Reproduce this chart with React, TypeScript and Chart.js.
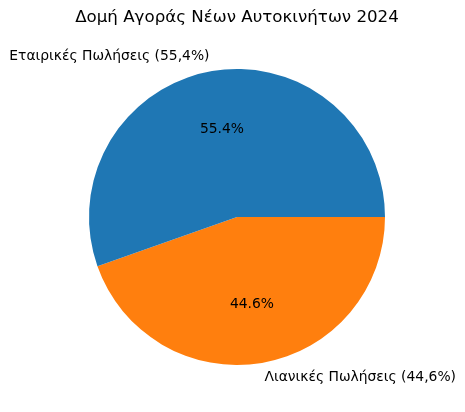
import React, { useEffect, useRef } from "react";
import { Chart, registerables } from "chart.js";

Chart.register(...registerables);

const TITLE = "Δομή Αγοράς Νέων Αυτοκινήτων 2024";
const categories = ["Εταιρικές Πωλήσεις (55,4%)", "Λιανικές Πωλήσεις (44,6%)"];
const values = [55.4, 44.6];
const colors = ["#1f77b4", "#ff7f0e"];

const FONT = "'DejaVu Sans', sans-serif";

export default function App() {
  const ref = useRef<HTMLCanvasElement | null>(null);

  useEffect(() => {
    document.body.style.margin = "0";
    if (!ref.current) return;
    // matplotlib draws counter-clockwise from 3 o'clock; Chart.js draws clockwise,
    // so feed the slices in reverse order starting at 3 o'clock.
    const order = values.map((_, i) => i).reverse();
    const total = values.reduce((a, b) => a + b, 0);

    const labelPlugin = {
      id: "mplLabels",
      afterDraw(chart: any) {
        const ctx = chart.ctx;
        const meta = chart.getDatasetMeta(0);
        ctx.save();
        // title
        ctx.fillStyle = "#000";
        ctx.font = `16.67px ${FONT}`;
        ctx.textAlign = "center";
        ctx.textBaseline = "middle";
        const area = chart.chartArea;
        ctx.fillText(TITLE, (area.left + area.right) / 2, 18);

        ctx.font = `13.89px ${FONT}`;
        meta.data.forEach((arc: any, j: number) => {
          const idx = order[j];
          const mid = (arc.startAngle + arc.endAngle) / 2;
          const r = arc.outerRadius;
          const c = Math.cos(mid);
          const s = Math.sin(mid);
          // outer label
          ctx.textAlign = c < 0 ? "right" : "left";
          ctx.textBaseline = "middle";
          ctx.fillText(categories[idx], arc.x + 1.1 * r * c, arc.y + 1.1 * r * s);
          // percentage
          ctx.textAlign = "center";
          const pct = ((values[idx] / total) * 100).toFixed(1) + "%";
          ctx.fillText(pct, arc.x + 0.6 * r * c, arc.y + 0.6 * r * s);
        });
        ctx.restore();
      },
    };

    const chart = new Chart(ref.current, {
      type: "pie",
      data: {
        labels: order.map((i) => categories[i]),
        datasets: [
          {
            data: order.map((i) => values[i]),
            backgroundColor: order.map((i) => colors[i]),
            borderWidth: 0,
          },
        ],
      },
      options: {
        responsive: false,
        animation: false,
        devicePixelRatio: 1,
        events: [],
        rotation: 90,
        layout: { padding: { top: 69, bottom: 47, left: 89, right: 80 } },
        plugins: {
          legend: { display: false },
          title: { display: false },
          tooltip: { enabled: false },
        },
      },
      plugins: [labelPlugin],
    });
    return () => chart.destroy();
  }, []);

  return (
    <div style={{ width: 465, height: 412, background: "#fff" }}>
      <canvas ref={ref} width={465} height={412} />
    </div>
  );
}
